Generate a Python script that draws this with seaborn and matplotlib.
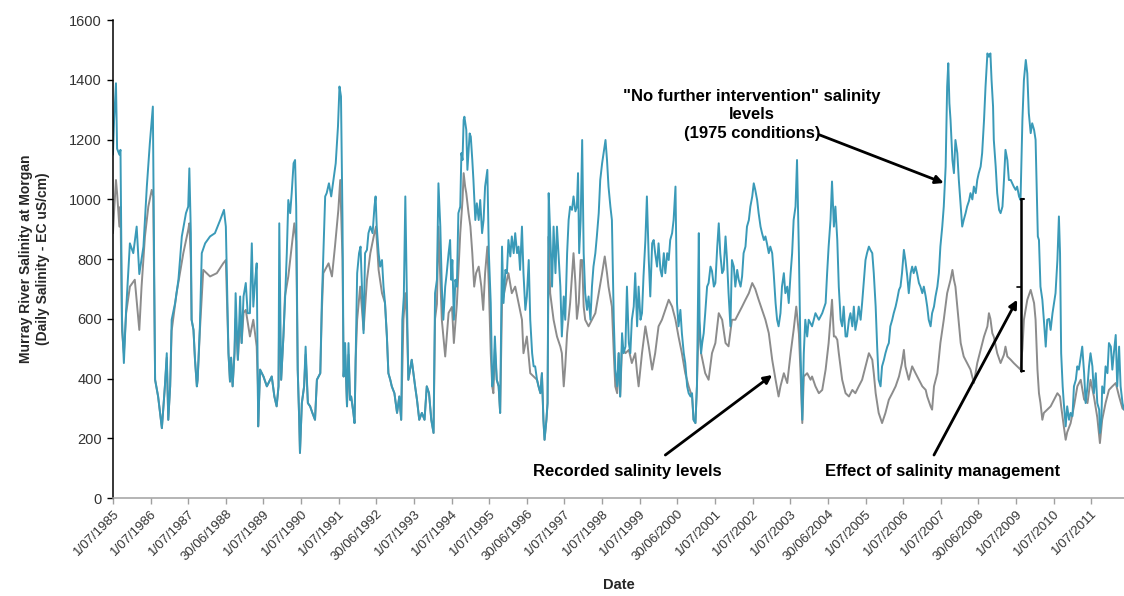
import numpy as np
import pandas as pd
import matplotlib
matplotlib.use("Agg")
import matplotlib.pyplot as plt
import matplotlib.dates as mdates
import seaborn as sns


# values: decimal years and daily salinity (EC uS/cm)
# "No further intervention" (1975 conditions) series
blue_years = [
    1985.50, 1985.53, 1985.58, 1985.61, 1985.67, 1985.70, 1985.74, 1985.79, 1985.85, 1985.95,
    1986.04, 1986.13, 1986.20, 1986.31, 1986.40, 1986.48, 1986.56, 1986.57, 1986.62, 1986.70,
    1986.80, 1986.88, 1986.93, 1986.97, 1987.02, 1987.06, 1987.15, 1987.24, 1987.33, 1987.44,
    1987.50, 1987.53, 1987.57, 1987.59, 1987.64, 1987.68, 1987.73, 1987.75, 1987.81, 1987.86,
    1987.95, 1988.08, 1988.21, 1988.35, 1988.45, 1988.50, 1988.57, 1988.61, 1988.64, 1988.68,
    1988.73, 1988.76, 1988.82, 1988.88, 1988.92, 1988.97, 1989.03, 1989.08, 1989.14, 1989.19,
    1989.23, 1989.28, 1989.32, 1989.35, 1989.36, 1989.41, 1989.50, 1989.59, 1989.72, 1989.79,
    1989.85, 1989.90, 1989.92, 1989.97, 1990.03, 1990.07, 1990.12, 1990.16, 1990.21, 1990.25,
    1990.30, 1990.34, 1990.37, 1990.41, 1990.45, 1990.47, 1990.52, 1990.58, 1990.62, 1990.68,
    1990.74, 1990.80, 1990.87, 1990.92, 1991.01, 1991.05, 1991.14, 1991.18, 1991.24, 1991.30,
    1991.36, 1991.42, 1991.48, 1991.52, 1991.56, 1991.60, 1991.63, 1991.67, 1991.72, 1991.76,
    1991.80, 1991.83, 1991.89, 1991.92, 1991.95, 1991.99, 1992.04, 1992.08, 1992.11, 1992.16,
    1992.20, 1992.25, 1992.29, 1992.34, 1992.40, 1992.45, 1992.48, 1992.51, 1992.56, 1992.60,
    1992.65, 1992.69, 1992.73, 1992.78, 1992.82, 1992.87, 1992.91, 1992.98, 1993.05, 1993.11,
    1993.16, 1993.19, 1993.23, 1993.27, 1993.31, 1993.35, 1993.44, 1993.53, 1993.58, 1993.64,
    1993.71, 1993.78, 1993.84, 1993.90, 1993.96, 1994.02, 1994.06, 1994.11, 1994.15, 1994.20,
    1994.24, 1994.28, 1994.33, 1994.37, 1994.42, 1994.46, 1994.49, 1994.52, 1994.56, 1994.60,
    1994.64, 1994.68, 1994.73, 1994.76, 1994.79, 1994.82, 1994.84, 1994.89, 1994.92, 1994.98,
    1995.01, 1995.05, 1995.08, 1995.13, 1995.17, 1995.22, 1995.26, 1995.31, 1995.35, 1995.39,
    1995.45, 1995.49, 1995.54, 1995.58, 1995.61, 1995.65, 1995.70, 1995.75, 1995.79, 1995.84,
    1995.88, 1995.93, 1995.97, 1996.01, 1996.06, 1996.10, 1996.15, 1996.19, 1996.24, 1996.28,
    1996.32, 1996.37, 1996.41, 1996.46, 1996.50, 1996.55, 1996.59, 1996.64, 1996.68, 1996.72,
    1996.77, 1996.81, 1996.86, 1996.90, 1996.94, 1996.97, 1997.02, 1997.05, 1997.08, 1997.12,
    1997.17, 1997.21, 1997.26, 1997.30, 1997.34, 1997.39, 1997.43, 1997.48, 1997.52, 1997.57,
    1997.61, 1997.65, 1997.70, 1997.74, 1997.79, 1997.83, 1997.86, 1997.89, 1997.93, 1997.97,
    1998.01, 1998.05, 1998.10, 1998.14, 1998.19, 1998.23, 1998.27, 1998.32, 1998.36, 1998.41,
    1998.45, 1998.50, 1998.54, 1998.59, 1998.63, 1998.67, 1998.72, 1998.76, 1998.81, 1998.85,
    1998.90, 1998.94, 1998.98, 1999.03, 1999.07, 1999.12, 1999.16, 1999.21, 1999.25, 1999.29,
    1999.34, 1999.38, 1999.43, 1999.47, 1999.52, 1999.56, 1999.60, 1999.65, 1999.69, 1999.74,
    1999.78, 1999.83, 1999.87, 1999.91, 1999.96, 2000.00, 2000.05, 2000.09, 2000.14, 2000.18,
    2000.23, 2000.27, 2000.31, 2000.36, 2000.40, 2000.45, 2000.49, 2000.53, 2000.58, 2000.62,
    2000.67, 2000.71, 2000.76, 2000.80, 2000.85, 2000.89, 2000.93, 2000.98, 2001.02, 2001.07,
    2001.09, 2001.13, 2001.16, 2001.20, 2001.24, 2001.29, 2001.33, 2001.38, 2001.42, 2001.47,
    2001.51, 2001.56, 2001.60, 2001.64, 2001.69, 2001.73, 2001.78, 2001.82, 2001.86, 2001.91,
    2001.95, 2002.00, 2002.04, 2002.09, 2002.13, 2002.18, 2002.22, 2002.26, 2002.31, 2002.35,
    2002.40, 2002.44, 2002.49, 2002.53, 2002.57, 2002.62, 2002.66, 2002.71, 2002.75, 2002.80,
    2002.84, 2002.88, 2002.93, 2002.97, 2003.02, 2003.06, 2003.11, 2003.15, 2003.19, 2003.24,
    2003.28, 2003.33, 2003.37, 2003.42, 2003.46, 2003.51, 2003.55, 2003.59, 2003.64, 2003.68,
    2003.73, 2003.77, 2003.82, 2003.86, 2003.90, 2003.95, 2003.99, 2004.08, 2004.17, 2004.26,
    2004.35, 2004.44, 2004.48, 2004.52, 2004.57, 2004.61, 2004.66, 2004.70, 2004.75, 2004.79,
    2004.84, 2004.88, 2004.92, 2004.97, 2005.01, 2005.06, 2005.10, 2005.15, 2005.19, 2005.23,
    2005.28, 2005.32, 2005.37, 2005.41, 2005.46, 2005.50, 2005.54, 2005.59, 2005.63, 2005.68,
    2005.72, 2005.77, 2005.81, 2005.85, 2005.90, 2005.94, 2005.99, 2006.03, 2006.08, 2006.12,
    2006.16, 2006.21, 2006.25, 2006.30, 2006.34, 2006.39, 2006.43, 2006.47, 2006.52, 2006.56,
    2006.61, 2006.65, 2006.70, 2006.74, 2006.78, 2006.83, 2006.87, 2006.92, 2006.96, 2007.01,
    2007.05, 2007.10, 2007.14, 2007.18, 2007.23, 2007.27, 2007.32, 2007.36, 2007.41, 2007.45,
    2007.49, 2007.54, 2007.58, 2007.63, 2007.67, 2007.70, 2007.73, 2007.76, 2007.81, 2007.85,
    2007.89, 2007.94, 2007.98, 2008.03, 2008.07, 2008.11, 2008.16, 2008.20, 2008.25, 2008.29,
    2008.34, 2008.38, 2008.43, 2008.47, 2008.51, 2008.56, 2008.60, 2008.65, 2008.69, 2008.74,
    2008.78, 2008.82, 2008.85, 2008.89, 2008.91, 2008.96, 2009.00, 2009.05, 2009.09, 2009.14,
    2009.18, 2009.22, 2009.27, 2009.31, 2009.36, 2009.40, 2009.44, 2009.49, 2009.53, 2009.58,
    2009.62, 2009.67, 2009.71, 2009.76, 2009.80, 2009.84, 2009.89, 2009.93, 2009.98, 2010.02,
    2010.05, 2010.08, 2010.11, 2010.15, 2010.20, 2010.24, 2010.29, 2010.33, 2010.38, 2010.42,
    2010.47, 2010.51, 2010.55, 2010.60, 2010.64, 2010.67, 2010.70, 2010.74, 2010.77, 2010.82,
    2010.86, 2010.91, 2010.95, 2011.00, 2011.04, 2011.09, 2011.13, 2011.17, 2011.22, 2011.26,
    2011.31, 2011.35, 2011.40, 2011.44, 2011.48, 2011.53, 2011.57, 2011.62, 2011.66, 2011.71,
    2011.73, 2011.77, 2011.79, 2011.84, 2011.88, 2011.93, 2011.97, 2012.02, 2012.06, 2012.10,
    2012.15, 2012.19, 2012.24, 2012.28, 2012.33, 2012.37,
]
blue_values = [
    1150, 1266, 1389, 1170, 1150, 1166, 600, 452, 630, 853,
    820, 909, 750, 842, 1043, 1188, 1311, 1155, 396, 340,
    234, 374, 485, 262, 374, 597, 652, 731, 876, 954,
    976, 1104, 887, 597, 563, 463, 374, 396, 575, 820,
    853, 876, 887, 931, 965, 909, 485, 390, 470, 374,
    485, 686, 463, 675, 519, 675, 720, 619, 619, 853,
    641, 731, 786, 374, 240, 430, 407, 374, 407, 340,
    307, 374, 920, 396, 541, 653, 820, 998, 954, 1021,
    1121, 1132, 976, 430, 262, 151, 318, 374, 507, 318,
    307, 285, 262, 396, 418, 653, 1010, 1021, 1054, 1010,
    1065, 1121, 1244, 1378, 1345, 931, 407, 519, 307, 519,
    329, 340, 285, 251, 463, 753, 820, 842, 731, 552,
    820, 831, 887, 909, 887, 976, 1010, 909, 820, 775,
    797, 708, 653, 541, 418, 396, 374, 351, 285, 340,
    262, 597, 675, 1010, 686, 396, 463, 374, 329, 262,
    285, 262, 374, 351, 262, 218, 686, 731, 1054, 909,
    708, 597, 708, 753, 820, 864, 731, 797, 597, 731,
    708, 954, 976, 1155, 1132, 1266, 1277, 1233, 1099, 1221,
    1210, 1132, 1065, 931, 987, 931, 998, 887, 931, 1043,
    1099, 820, 653, 374, 396, 541, 396, 374, 285, 842,
    653, 764, 753, 864, 809, 876, 820, 887, 820, 842,
    764, 909, 753, 630, 675, 797, 597, 485, 441, 441,
    396, 374, 351, 418, 262, 195, 262, 318, 1021, 887,
    708, 909, 753, 909, 820, 708, 541, 675, 597, 820,
    931, 976, 965, 1010, 960, 976, 1088, 820, 931, 1199,
    820, 686, 630, 675, 597, 708, 775, 820, 876, 954,
    1065, 1121, 1155, 1199, 1132, 1043, 976, 931, 597, 430,
    374, 485, 340, 552, 485, 507, 708, 519, 485, 597,
    641, 753, 575, 708, 597, 619, 742, 864, 1010, 797,
    675, 853, 864, 820, 775, 853, 764, 742, 820, 753,
    820, 797, 864, 887, 931, 1043, 653, 575, 630, 552,
    485, 452, 374, 351, 340, 351, 262, 251, 374, 887,
    597, 485, 519, 552, 619, 708, 720, 775, 760, 708,
    720, 842, 920, 820, 753, 764, 876, 797, 686, 575,
    797, 775, 708, 764, 731, 708, 742, 820, 842, 909,
    931, 976, 1010, 1054, 1032, 998, 954, 909, 887, 864,
    876, 853, 820, 842, 820, 753, 653, 597, 575, 619,
    708, 753, 686, 708, 653, 753, 820, 931, 976, 1132,
    820, 507, 262, 485, 597, 541, 597, 575, 619, 597,
    619, 653, 753, 842, 931, 1060, 909, 976, 864, 708,
    597, 575, 641, 541, 541, 597, 619, 575, 641, 563,
    597, 641, 597, 653, 731, 797, 820, 842, 831, 820,
    753, 641, 507, 396, 374, 441, 463, 485, 507, 519,
    575, 597, 619, 641, 664, 697, 708, 753, 831, 797,
    742, 686, 753, 775, 753, 775, 753, 720, 708, 686,
    708, 675, 641, 597, 575, 619, 641, 675, 708, 753,
    842, 909, 976, 1110, 1378, 1456, 1322, 1266, 1132, 1088,
    1199, 1155, 1065, 976, 909, 931, 954, 976, 995, 1021,
    1000, 1043, 1021, 1065, 1088, 1110, 1155, 1266, 1378, 1489,
    1478, 1489, 1400, 1311, 1199, 1110, 1021, 965, 954, 976,
    1065, 1166, 1132, 1065, 1065, 1054, 1043, 1032, 1043, 1010,
    998, 1266, 1400, 1467, 1422, 1289, 1222, 1255, 1233, 1200,
    1043, 876, 864, 708, 664, 597, 507, 597, 600, 563,
    619, 653, 686, 797, 943, 820, 485, 374, 318, 240,
    307, 262, 285, 274, 374, 396, 441, 430, 474, 507,
    418, 318, 374, 441, 485, 441, 351, 418, 318, 296,
    218, 262, 374, 351, 441, 418, 519, 507, 430, 485,
    546, 374, 507, 374, 318, 296,
]

# recorded salinity series
grey_years = [
    1985.50, 1985.53, 1985.58, 1985.61, 1985.67, 1985.70, 1985.74, 1985.79, 1985.85, 1985.95,
    1986.08, 1986.20, 1986.26, 1986.35, 1986.44, 1986.53, 1986.57, 1986.62, 1986.70, 1986.80,
    1986.88, 1986.93, 1986.97, 1987.02, 1987.06, 1987.19, 1987.37, 1987.50, 1987.53, 1987.57,
    1987.59, 1987.64, 1987.68, 1987.73, 1987.75, 1987.81, 1987.90, 1988.08, 1988.26, 1988.43,
    1988.50, 1988.57, 1988.61, 1988.64, 1988.68, 1988.73, 1988.76, 1988.82, 1988.88, 1988.92,
    1988.97, 1989.03, 1989.14, 1989.23, 1989.32, 1989.35, 1989.36, 1989.41, 1989.50, 1989.59,
    1989.72, 1989.79, 1989.85, 1989.90, 1989.92, 1989.97, 1990.03, 1990.07, 1990.16, 1990.25,
    1990.32, 1990.37, 1990.41, 1990.45, 1990.47, 1990.52, 1990.58, 1990.62, 1990.68, 1990.74,
    1990.80, 1990.87, 1990.92, 1991.01, 1991.05, 1991.09, 1991.23, 1991.32, 1991.40, 1991.49,
    1991.54, 1991.60, 1991.63, 1991.67, 1991.72, 1991.76, 1991.80, 1991.83, 1991.89, 1991.92,
    1991.95, 1991.99, 1992.07, 1992.16, 1992.25, 1992.34, 1992.43, 1992.49, 1992.56, 1992.65,
    1992.73, 1992.78, 1992.82, 1992.87, 1992.91, 1992.98, 1993.05, 1993.11, 1993.16, 1993.22,
    1993.27, 1993.31, 1993.35, 1993.44, 1993.53, 1993.58, 1993.64, 1993.71, 1993.78, 1993.84,
    1993.90, 1993.96, 1994.02, 1994.06, 1994.11, 1994.15, 1994.24, 1994.33, 1994.42, 1994.51,
    1994.56, 1994.64, 1994.73, 1994.79, 1994.82, 1994.86, 1994.89, 1994.95, 1995.00, 1995.05,
    1995.10, 1995.15, 1995.22, 1995.29, 1995.34, 1995.39, 1995.45, 1995.49, 1995.54, 1995.58,
    1995.61, 1995.65, 1995.70, 1995.75, 1995.79, 1995.84, 1995.93, 1996.01, 1996.10, 1996.19,
    1996.28, 1996.37, 1996.41, 1996.50, 1996.59, 1996.68, 1996.77, 1996.81, 1996.86, 1996.90,
    1996.94, 1996.97, 1997.02, 1997.05, 1997.08, 1997.12, 1997.21, 1997.30, 1997.39, 1997.43,
    1997.48, 1997.52, 1997.57, 1997.65, 1997.74, 1997.79, 1997.83, 1997.88, 1997.93, 1997.97,
    1998.01, 1998.05, 1998.14, 1998.23, 1998.32, 1998.41, 1998.50, 1998.57, 1998.63, 1998.67,
    1998.76, 1998.81, 1998.85, 1998.90, 1998.94, 1998.98, 1999.03, 1999.12, 1999.21, 1999.29,
    1999.38, 1999.43, 1999.47, 1999.56, 1999.65, 1999.74, 1999.83, 1999.91, 2000.00, 2000.09,
    2000.18, 2000.27, 2000.36, 2000.45, 2000.53, 2000.62, 2000.71, 2000.80, 2000.89, 2000.93,
    2000.98, 2001.02, 2001.07, 2001.13, 2001.24, 2001.33, 2001.42, 2001.51, 2001.60, 2001.69,
    2001.78, 2001.86, 2001.95, 2002.04, 2002.13, 2002.22, 2002.31, 2002.40, 2002.49, 2002.57,
    2002.66, 2002.75, 2002.84, 2002.93, 2003.02, 2003.11, 2003.19, 2003.24, 2003.33, 2003.42,
    2003.51, 2003.59, 2003.66, 2003.73, 2003.77, 2003.82, 2003.86, 2003.95, 2004.04, 2004.08,
    2004.17, 2004.26, 2004.35, 2004.44, 2004.52, 2004.61, 2004.66, 2004.70, 2004.75, 2004.79,
    2004.88, 2004.97, 2005.06, 2005.15, 2005.23, 2005.32, 2005.41, 2005.50, 2005.59, 2005.68,
    2005.72, 2005.77, 2005.85, 2005.94, 2006.03, 2006.12, 2006.21, 2006.30, 2006.39, 2006.47,
    2006.52, 2006.56, 2006.65, 2006.74, 2006.83, 2006.92, 2007.01, 2007.10, 2007.14, 2007.23,
    2007.27, 2007.32, 2007.41, 2007.49, 2007.58, 2007.67, 2007.76, 2007.81, 2007.85, 2007.89,
    2007.94, 2008.03, 2008.11, 2008.20, 2008.29, 2008.38, 2008.47, 2008.56, 2008.65, 2008.74,
    2008.78, 2008.82, 2008.87, 2008.91, 2009.00, 2009.09, 2009.18, 2009.22, 2009.27, 2009.36,
    2009.44, 2009.53, 2009.62, 2009.67, 2009.71, 2009.80, 2009.89, 2009.98, 2010.02, 2010.07,
    2010.11, 2010.15, 2010.20, 2010.24, 2010.33, 2010.42, 2010.51, 2010.60, 2010.67, 2010.70,
    2010.77, 2010.82, 2010.86, 2010.95, 2011.04, 2011.13, 2011.22, 2011.31, 2011.40, 2011.48,
    2011.57, 2011.66, 2011.73, 2011.79, 2011.88, 2011.97, 2012.06, 2012.15, 2012.24, 2012.33,
    2012.37,
]
grey_values = [
    887, 960, 1065, 1021, 909, 976, 560, 485, 619, 708,
    731, 563, 708, 876, 976, 1032, 1010, 396, 340, 234,
    374, 470, 262, 374, 560, 686, 820, 898, 920, 800,
    597, 563, 463, 374, 396, 560, 764, 742, 753, 786,
    797, 485, 390, 470, 374, 485, 600, 463, 600, 519,
    620, 630, 541, 597, 507, 374, 240, 430, 407, 374,
    407, 340, 307, 374, 640, 396, 541, 675, 742, 842,
    920, 860, 430, 262, 151, 318, 374, 480, 318, 307,
    285, 262, 396, 418, 620, 753, 786, 742, 842, 965,
    1065, 800, 407, 480, 307, 480, 329, 340, 285, 251,
    463, 597, 708, 563, 731, 820, 876, 909, 764, 686,
    653, 541, 418, 396, 374, 351, 285, 340, 262, 597,
    686, 600, 396, 463, 374, 329, 262, 285, 262, 374,
    351, 262, 218, 600, 650, 909, 597, 474, 620, 640,
    519, 650, 887, 998, 1088, 1043, 1021, 954, 909, 820,
    708, 753, 775, 708, 630, 753, 842, 708, 485, 374,
    351, 500, 396, 374, 285, 653, 708, 753, 686, 708,
    653, 597, 485, 541, 418, 407, 396, 374, 351, 418,
    262, 195, 262, 318, 876, 686, 597, 541, 507, 485,
    374, 441, 552, 653, 820, 720, 600, 653, 797, 797,
    641, 597, 575, 597, 619, 686, 753, 809, 753, 708,
    641, 485, 374, 351, 485, 340, 507, 485, 496, 452,
    485, 418, 374, 485, 575, 507, 430, 485, 575, 597,
    630, 664, 641, 597, 541, 485, 418, 374, 340, 262,
    251, 374, 600, 485, 418, 396, 485, 519, 619, 597,
    519, 508, 597, 597, 619, 641, 664, 686, 720, 700,
    664, 630, 597, 552, 463, 396, 340, 374, 418, 385,
    485, 563, 641, 550, 430, 251, 407, 418, 396, 407,
    374, 351, 362, 430, 519, 664, 541, 541, 530, 485,
    396, 351, 340, 362, 351, 374, 396, 441, 485, 463,
    418, 351, 285, 251, 285, 329, 351, 374, 407, 452,
    496, 441, 396, 441, 418, 396, 374, 362, 340, 307,
    296, 374, 418, 519, 597, 686, 731, 764, 731, 708,
    641, 519, 474, 452, 430, 385, 452, 496, 541, 575,
    619, 600, 552, 540, 485, 452, 480, 507, 474, 463,
    452, 441, 430, 500, 597, 664, 697, 653, 597, 430,
    351, 318, 262, 285, 296, 307, 329, 351, 340, 307,
    240, 195, 220, 250, 307, 374, 396, 330, 318, 396,
    340, 270, 184, 262, 318, 362, 374, 385, 340, 300,
    296,
]

series_names = ["Recorded salinity levels", "No further intervention"]
series_colors = ["#8c8c8c", "#3a9ab8"]
y_ticks = [0, 200, 400, 600, 800, 1000, 1200, 1400, 1600]
tick_start = "1985-07-01"
tick_count = 27


def to_dates(years):
    """decimal years (1985.5 = 1 July 1985) to timestamps"""
    years = np.asarray(years, dtype=float)
    return pd.Timestamp(tick_start) + pd.to_timedelta((years - 1985.5) * 365.25, unit="D")


def yr(value):
    return mdates.date2num(to_dates([value])[0])


recorded = pd.DataFrame({"Date": to_dates(grey_years), "Salinity": grey_values,
                         "Series": series_names[0]})
intervention = pd.DataFrame({"Date": to_dates(blue_years), "Salinity": blue_values,
                             "Series": series_names[1]})
data = pd.concat([recorded, intervention], ignore_index=True)

sns.set_style("white")
plt.rcParams["font.family"] = ["Liberation Sans", "DejaVu Sans"]

fig = plt.figure(figsize=(11.24, 5.96), dpi=100)
ax = fig.add_axes([0.1005, 0.1644, 0.8995, 0.8016])

sns.lineplot(data=data, x="Date", y="Salinity", hue="Series", hue_order=series_names,
             palette=dict(zip(series_names, series_colors)), estimator=None,
             linewidth=1.4, legend=False, ax=ax)

# axes
ax.set_ylim(0, 1600)
ax.set_yticks(y_ticks)
ax.set_xlim(pd.Timestamp(tick_start), to_dates([blue_years[-1]])[0])

tick_dates = [pd.Timestamp(tick_start) + pd.Timedelta(days=365.25 * k) for k in range(tick_count)]
tick_labels = [f"{d.day}/{d.month:02d}/{d.year}" for d in tick_dates]
ax.set_xticks(tick_dates)
ax.set_xticklabels(tick_labels, rotation=45, ha="right", rotation_mode="anchor")

ax.tick_params(axis="y", direction="out", length=4, width=1, color="black",
               labelsize=10.5, labelcolor="#333333", pad=4)
ax.tick_params(axis="x", direction="out", length=4, width=1, color="#a0a0a0",
               labelsize=9.5, labelcolor="#333333", pad=3)
ax.yaxis.set_ticks_position("left")
ax.xaxis.set_ticks_position("bottom")

sns.despine(ax=ax)
ax.spines["left"].set_color("black")
ax.spines["left"].set_linewidth(1.1)
ax.spines["bottom"].set_color("#a0a0a0")
ax.spines["bottom"].set_linewidth(1.1)

ax.set_ylabel("Murray River Salinity at Morgan\n(Daily Salinity - EC uS/cm)",
              fontsize=10, fontweight="bold", labelpad=14)
ax.set_xlabel("Date", fontsize=10.5, fontweight="bold", labelpad=11)

# annotations
arrow = dict(arrowstyle="-|>", color="black", lw=2, mutation_scale=12, shrinkA=0, shrinkB=0)
label_font = dict(fontsize=12, fontweight="bold", color="black")

ax.text(yr(2002.49), 1284, '"No further intervention" salinity\nlevels\n(1975 conditions)',
        ha="center", va="center", linespacing=1.3, **label_font)
ax.annotate("", xy=(yr(2007.58), 1055), xytext=(yr(2004.26), 1217), arrowprops=arrow)

ax.text(yr(1999.17), 88, "Recorded salinity levels", ha="center", va="center", **label_font)
ax.annotate("", xy=(yr(2003.02), 412), xytext=(yr(2000.18), 144), arrowprops=arrow)

ax.text(yr(2007.55), 88, "Effect of salinity management", ha="center", va="center", **label_font)
ax.annotate("", xy=(yr(2009.53), 664), xytext=(yr(2007.32), 144), arrowprops=arrow)

# bracket showing the gap between the two series
bx = yr(2009.62)
ax.plot([bx, bx], [425, 1000], color="black", lw=1.8)
ax.plot([bx, yr(2009.72)], [1000, 1000], color="black", lw=1.5)
ax.plot([bx, yr(2009.72)], [425, 425], color="black", lw=1.5)
ax.plot([yr(2009.52), bx], [708, 708], color="black", lw=1.2)

fig.savefig("out.png", dpi=100)
